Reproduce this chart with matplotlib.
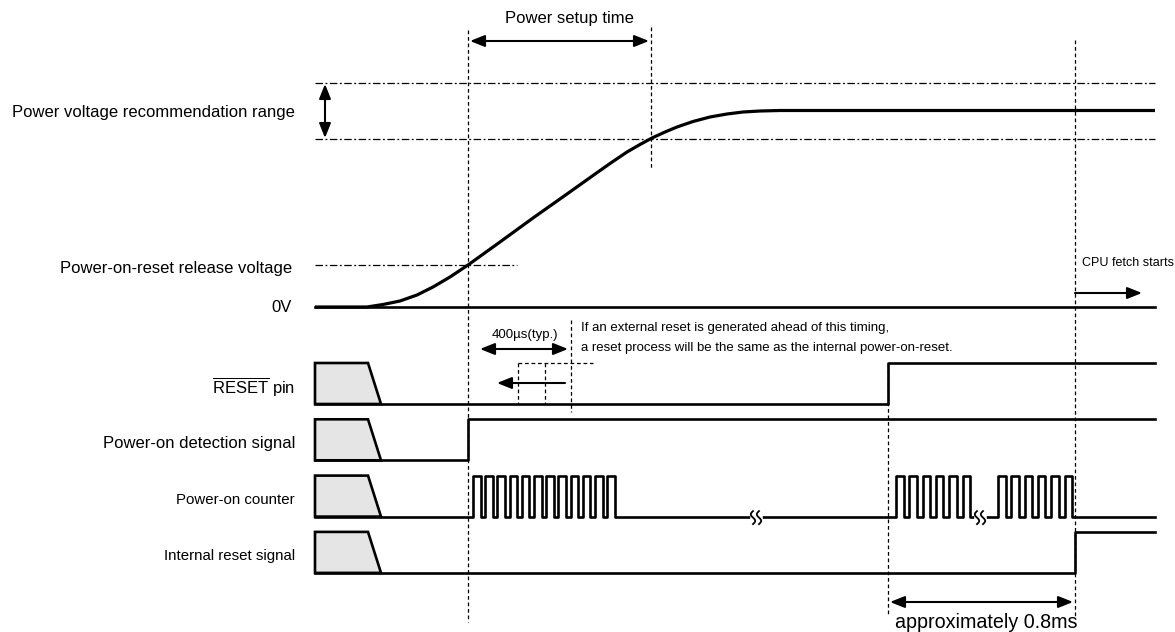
import numpy as np
import matplotlib.pyplot as plt
from matplotlib.patches import Polygon

plt.rcParams["font.family"] = ["Liberation Sans", "DejaVu Sans"]
plt.rcParams["mathtext.fontset"] = "custom"
plt.rcParams["mathtext.rm"] = "Liberation Sans"

# timing data (x = time on the diagram scale)
t_begin, t_end = 315, 1155
t_por = 468          # power-on detection
t_setup_end = 651    # power setup time ends
t_reset_pin = 888    # external RESET pin goes high
t_int_reset = 1075   # internal reset released, CPU fetch starts
t_ext_limit = 571    # external reset timing limit
t_ext_alt = [518, 545]

# supply voltage ramp (y on the diagram scale)
vdd_t = [315, 367, 383, 400, 417, 433, 450, 468, 500, 533, 567, 593, 610,
         627, 640, 652, 665, 677, 693, 710, 727, 743, 760, 780, 1155]
vdd_y = [307, 307, 304.5, 301, 295, 287, 277, 265, 242, 218, 194, 175.5, 163.5,
         152, 144.5, 138, 132, 127, 121.5, 117, 114, 112, 111, 110.5, 110.5]
v_range = [83, 139]     # recommended range (top, bottom)
v_release = 265
v_zero = 307

# digital signals: rising edges, starting low
row_names = [r"$\overline{\mathrm{RESET}}$ pin", "Power-on detection signal",
             "Power-on counter", "Internal reset signal"]
row_edges = [[t_reset_pin], [t_por], None, [t_int_reset]]

# power-on counter bursts: (start, pulses, period)
counter_bursts = [(473, 12, 12.2), (896, 6, 13.3), (998, 6, 13.3)]
counter_high = 7.5
counter_breaks = [756, 980]

# layout
row_low0, row_pitch, row_amp = 404, 56.3, 41
row_font = [12, 12, 10.8, 10.8]
box_top_w, box_bot_w = 53, 66
lbl_x = 295
sig_lw = 1.9
thin = dict(color="k", lw=0.9, ls=(0, (3, 2.2)))
dashdot = dict(color="k", lw=0.9, ls=(0, (6, 2, 1.5, 2)))
arrow2 = dict(arrowstyle="<|-|>,head_length=0.55,head_width=0.22", color="k",
              lw=1.5, mutation_scale=16, shrinkA=0, shrinkB=0)
arrow1 = dict(arrowstyle="-|>,head_length=0.55,head_width=0.22", color="k",
              lw=1.5, mutation_scale=16, shrinkA=0, shrinkB=0)
lbl_font = dict(fontsize=12, ha="right", va="center")
small_font = dict(fontsize=9.5, va="center")

fig = plt.figure(figsize=(11.75, 6.32), dpi=100)
ax = fig.add_axes([0, 0, 1, 1])
ax.set_xlim(0, 1175)
ax.set_ylim(632, 0)
ax.axis("off")

# ---- analogue part ----
ax.plot(vdd_t, vdd_y, color="k", lw=2.3, solid_capstyle="butt", solid_joinstyle="round")
ax.plot([t_begin, t_end], [v_zero, v_zero], color="k", lw=sig_lw)
for y in v_range:
    ax.plot([t_begin, t_end], [y, y], **dashdot)
ax.plot([t_begin, 517], [v_release, v_release], **dashdot)
ax.annotate("", xy=(325, v_range[0] + 1), xytext=(325, v_range[1] - 1), arrowprops=arrow2)

ax.text(lbl_x, 112, "Power voltage recommendation range", **lbl_font)
ax.text(lbl_x - 3, 268, "Power-on-reset release voltage", **lbl_font)
ax.text(lbl_x - 3, v_zero, "0V", **lbl_font)

# vertical timing markers
ax.plot([t_por, t_por], [30, 622], **thin)
ax.plot([t_setup_end, t_setup_end], [27, 170], **thin)
ax.plot([t_reset_pin, t_reset_pin], [363, 614], **thin)
ax.plot([t_int_reset, t_int_reset], [40, 618], **thin)

ax.annotate("", xy=(t_por + 2, 41), xytext=(t_setup_end - 2, 41), arrowprops=arrow2)
ax.text(569, 19, "Power setup time", fontsize=12, ha="center", va="center")

ax.text(1082, 263, "CPU fetch starts", fontsize=9, va="center")
ax.annotate("", xy=(1142, 293), xytext=(t_int_reset, 293), arrowprops=arrow1)

# ---- digital rows ----
for i, (name, edges) in enumerate(zip(row_names, row_edges)):
    lo = row_low0 + i * row_pitch
    hi = lo - row_amp
    box = Polygon([(t_begin, lo), (t_begin, hi), (t_begin + box_top_w, hi),
                   (t_begin + box_bot_w, lo)], closed=True, facecolor="#e5e5e5",
                  edgecolor="k", lw=sig_lw, joinstyle="miter")
    ax.add_patch(box)
    ax.text(lbl_x, lo - row_amp / 2 + 4, name, fontsize=row_font[i], ha="right", va="center")

    if edges is not None:
        xs, ys = [t_begin], [lo]
        for e in edges:
            xs += [e, e]
            ys += [lo, hi]
        xs.append(t_end)
        ys.append(hi)
        ax.plot(xs, ys, color="k", lw=sig_lw)
    else:
        xs, ys = [t_begin], [lo]
        for start, n, period in counter_bursts:
            for k in range(n):
                r = start + k * period
                xs += [r, r, r + counter_high, r + counter_high]
                ys += [lo, hi, hi, lo]
        xs.append(t_end)
        ys.append(lo)
        ax.plot(xs, ys, color="k", lw=sig_lw)
        s = np.linspace(-1, 1, 30)
        for xb in counter_breaks:
            ax.plot([xb - 3.5, xb + 3.5], [lo, lo], color="white", lw=4)
            for dx in (-3, 3):
                ax.plot(xb + dx + 2.2 * np.sin(np.pi * s), lo + 1 + 6.5 * s, color="k", lw=1.3)

# external reset note on the RESET pin row
lo0 = row_low0
hi0 = row_low0 - row_amp
ax.plot([t_ext_limit, t_ext_limit], [320, 412], **thin)
ax.plot([t_ext_alt[0], 593], [hi0, hi0], **thin)
for xa in t_ext_alt:
    ax.plot([xa, xa], [hi0, lo0], **thin)
ax.annotate("", xy=(480, 349), xytext=(568, 349), arrowprops=arrow2)
ax.text(525, 335, "400µs(typ.)", fontsize=9.5, ha="center", va="center")
ax.annotate("", xy=(497, 383), xytext=(565, 383), arrowprops=arrow1)
ax.text(581, 328, "If an external reset is generated ahead of this timing,", **small_font)
ax.text(581, 348, "a reset process will be the same as the internal power-on-reset.", **small_font)

# reset release interval
ax.annotate("", xy=(t_reset_pin + 2, 602), xytext=(t_int_reset - 2, 602), arrowprops=arrow2)
ax.text(895, 622, "approximately 0.8ms", fontsize=14.2, va="center")

fig.savefig("out.png", dpi=100)
